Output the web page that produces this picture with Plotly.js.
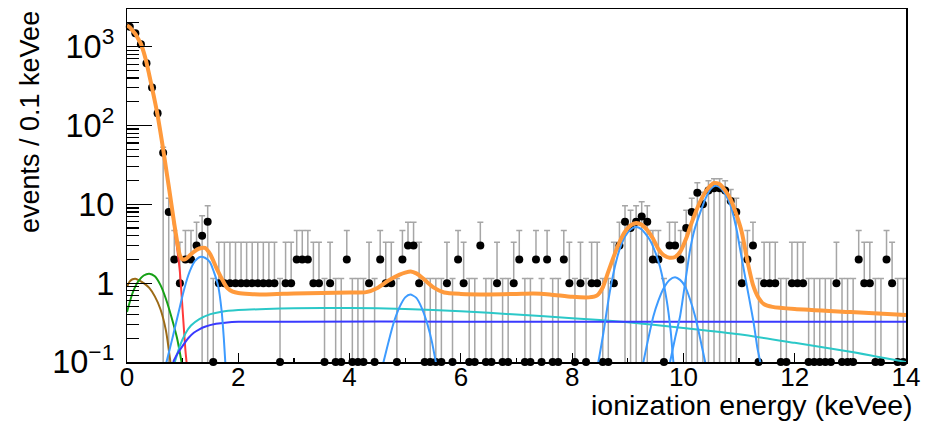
<!DOCTYPE html>
<html><head><meta charset="utf-8">
<script src="https://cdn.plot.ly/plotly-3.0.1.min.js"></script>
<style>html,body{margin:0;padding:0;background:#fff}#chart{width:930px;height:421px}</style>
</head><body><div id="chart"></div>
<script>
// ---- histogram definition ----
const binLow = 0, binWidth = 0.1;
const counts = [
1790,1475,1070,616,302,143,45,8,2,1,
2,2,3,4,6,0,1,1,1,1,
1,1,1,1,1,1,1,0,1,1,
2,2,2,1,1,0,1,0,0,2,
0,0,0,1,0,2,1,1,0,2,
3,3,1,0,0,0,0,1,0,2,
1,0,0,3,0,0,1,0,0,1,
2,0,0,2,0,2,0,0,2,1,
0,1,0,1,1,0,0,1,3,6,
5,6,7,6,2,2,0,3,3,2,
5,8,14,10,15,16,16,15,11,8,
1,2,3,0,1,1,1,0,0,1,
1,1,0,0,0,0,0,1,0,0,
0,2,1,1,0,0,2,1,0,0];

// ---- fit curves ----
const totalX = [0,0.05,0.1,0.15,0.2,0.25,0.3,0.35,0.4,0.45,0.5,0.55,0.6,0.65,0.7,0.75,0.8,0.85,0.9,0.95,1.0,1.05,1.1,1.2,1.3,1.4,1.5,1.6,1.7,1.8,1.9,2.0,2.2,2.5,3.0,3.5,4.0,4.3,4.5,4.7,4.9,5.0,5.1,5.2,5.3,5.4,5.5,5.7,6.0,6.5,7.0,7.3,7.6,8.0,8.3,8.45,8.55,8.65,8.75,8.85,8.95,9.05,9.15,9.25,9.35,9.45,9.55,9.65,9.75,9.85,9.95,10.05,10.15,10.25,10.35,10.45,10.55,10.65,10.75,10.85,10.95,11.05,11.15,11.25,11.35,11.45,11.6,12.0,13.0,14.0];
const totalY = [1860,1760,1600,1450,1260,1085,850,630,437,300,204,135,83,50,29,17,9.8,5.6,3.4,2.25,2.0,2.02,2.15,2.5,2.75,2.8,2.3,1.6,1.15,0.87,0.78,0.75,0.73,0.72,0.74,0.75,0.76,0.77,0.87,1.08,1.28,1.36,1.41,1.33,1.18,1.02,0.89,0.76,0.73,0.72,0.73,0.74,0.72,0.67,0.66,0.7,0.88,1.4,2.2,3.3,4.5,5.4,5.8,5.5,4.7,3.7,2.7,2.25,2.1,2.15,2.55,3.7,5.9,9.0,12.7,16.2,18.6,18.0,15.0,11.5,7.5,4.4,1.9,0.95,0.65,0.54,0.5,0.47,0.43,0.395];

const redX = [0,0.1,0.2,0.3,0.4,0.5,0.6,0.7,0.8,0.85,0.9,0.95,1.0,1.05,1.07,1.1];
const redY = [1850,1600,1250,840,435,202,82,28,9.3,5.0,2.8,1.4,0.45,0.14,0.1,0.055];

const brownX = [0,0.05,0.1,0.15,0.2,0.3,0.4,0.5,0.6,0.7,0.78,0.83];
const brownY = [0.9,1.05,1.12,1.14,1.1,1.0,0.87,0.68,0.47,0.25,0.1,0.05];

const greenX = [0,0.1,0.2,0.3,0.4,0.5,0.6,0.7,0.8,0.9,0.98,1.05];
const greenY = [0.43,0.75,1.05,1.25,1.32,1.22,0.95,0.63,0.37,0.2,0.1,0.05];

const cyanX = [0.86,0.95,1.05,1.15,1.3,1.5,1.7,2.0,2.5,3.0,4.0,5.0,6.0,7.0,8.0,9.0,10.0,11.0,12.0,13.0,14.0];
const cyanY = [0.1,0.16,0.23,0.29,0.35,0.405,0.435,0.455,0.47,0.48,0.485,0.47,0.44,0.40,0.36,0.32,0.27,0.225,0.175,0.135,0.1];

const flatX = [0.83,0.9,1.0,1.1,1.2,1.3,1.4,1.6,1.8,2.0,3.0,6.0,10.0,14.0];
const flatY = [0.1,0.125,0.16,0.2,0.235,0.26,0.28,0.305,0.318,0.323,0.325,0.325,0.325,0.325];

const peak1X = [0.66,0.71,0.8,0.86,0.95,1.01,1.1,1.16,1.22,1.31,1.4,1.49,1.56,1.64,1.70,1.74,1.78];
const peak1Y = [0.07,0.1,0.18,0.27,0.5,0.75,1.25,1.6,1.9,2.15,2.1,1.85,1.4,0.91,0.45,0.2,0.07];
const peak2X = [4.55,4.61,4.7,4.79,4.9,5.0,5.09,5.2,5.3,5.4,5.48,5.55,5.6];
const peak2Y = [0.07,0.1,0.18,0.31,0.5,0.66,0.72,0.65,0.48,0.3,0.18,0.1,0.07];
const peak3X = [8.42,8.47,8.56,8.68,8.8,8.9,9.0,9.1,9.16,9.25,9.4,9.5,9.58,9.7,9.77,9.82,9.86];
const peak3Y = [0.07,0.1,0.23,0.8,2.0,3.3,4.4,5.05,5.15,4.8,3.5,2.4,1.6,0.6,0.25,0.1,0.06];
const peak4X = [9.24,9.28,9.37,9.46,9.55,9.64,9.75,9.85,9.94,10.03,10.12,10.21,10.3,10.39,10.43];
const peak4Y = [0.07,0.1,0.2,0.38,0.6,0.85,1.1,1.19,1.1,0.91,0.62,0.38,0.2,0.1,0.07];
const peak5X = [9.7,9.76,9.85,9.94,10.03,10.12,10.2,10.3,10.4,10.5,10.57,10.65,10.75,10.85,10.95,11.02,11.1,11.18,11.26,11.33,11.38,11.42];
const peak5Y = [0.06,0.1,0.2,0.38,1.0,2.66,4.8,7.8,12,16,17.2,16.5,13.5,9.5,5.0,2.66,1.3,0.65,0.32,0.15,0.1,0.06];

const xTitle = 'ionization energy (keVee)';
const yTitle = 'events / 0.1 keVee';

// ---- Poisson (Garwood) 68% intervals, RooFit convention for empty bins ----
const ALPHA = 0.158655;
function poisCdf(n, mu){ let t=Math.exp(-mu), s=t; for(let k=1;k<=n;k++){t*=mu/k;s+=t;} return s; }
function bisect(f, lo, hi){ for(let i=0;i<80;i++){const m=(lo+hi)/2; if(f(m)>0) lo=m; else hi=m;} return (lo+hi)/2; }
function interval(n){
  if(n===0) return [0, -Math.log(1-0.6827)];
  if(n>60) return [n-Math.sqrt(n), n+Math.sqrt(n)+1];
  const hi = bisect(mu=>poisCdf(n,mu)-ALPHA, n, n+10*Math.sqrt(n)+10);
  const lo = bisect(mu=>(1-ALPHA)-poisCdf(n-1,mu), 0, n);
  return [lo, hi];
}
const yFloor = 0.1; // axis minimum: empty bins are drawn on it
const centers = counts.map((c,i)=>binLow+(i+0.5)*binWidth);
const shownY = counts.map(c=> c>0 ? c : yFloor);
const errUp = counts.map((c,i)=>interval(c)[1]-shownY[i]);
const errDn = counts.map((c,i)=> c>0 ? shownY[i]-interval(c)[0] : 0);

const font = 'Liberation Sans, Arial, Helvetica, sans-serif';
function curve(x,y,color,w){ return {x:x,y:y,type:'scatter',mode:'lines',line:{color:color,width:w,shape:'spline',smoothing:0.6},hoverinfo:'skip',showlegend:false}; }

const traces = [
  {x:centers,y:shownY,type:'scatter',mode:'markers',cliponaxis:false,
   marker:{color:'#000',size:8},
   error_y:{type:'data',symmetric:false,array:errUp,arrayminus:errDn,color:'#a6a6a6',thickness:1.5,width:3},
   showlegend:false},
  curve(redX,redY,'#ff3a3a',2),
  curve(brownX,brownY,'#9c6a16',2),
  curve(greenX,greenY,'#16a016',2),
  curve(cyanX,cyanY,'#2bc8c8',2),
  curve(flatX,flatY,'#3a3aff',2),
  curve(peak1X,peak1Y,'#3d9bff',2),
  curve(peak2X,peak2Y,'#3d9bff',2),
  curve(peak3X,peak3Y,'#3d9bff',2),
  curve(peak4X,peak4Y,'#3d9bff',2),
  curve(peak5X,peak5Y,'#3d9bff',2),
  curve(totalX,totalY,'#ff9a3c',4)
];

const layout = {
  width:930,height:421,
  margin:{l:127,r:24,t:9,b:58.5},
  paper_bgcolor:'#fff',plot_bgcolor:'#fff',
  showlegend:false,
  font:{family:font,color:'#000',size:26},
  xaxis:{range:[0,14],dtick:2,tick0:0,ticks:'inside',ticklen:9,tickwidth:1.2,tickcolor:'#000',
         showline:true,linecolor:'#000',linewidth:1.5,mirror:true,showgrid:false,zeroline:false,
         ticklabelstandoff:-9,
         tickfont:{family:font,size:26,color:'#000'},
         minor:{dtick:1,ticks:'inside',ticklen:4,tickcolor:'#000',tickwidth:1.2,showgrid:false}},
  yaxis:{type:'log',range:[-1,Math.log10(3000)],dtick:1,exponentformat:'power',ticks:'inside',ticklen:25,tickwidth:1.2,tickcolor:'#000',
         showline:true,linecolor:'#000',linewidth:1.5,mirror:true,showgrid:false,zeroline:false,
         ticklabelstandoff:6,
         tickfont:{family:font,size:26,color:'#000'},
         minor:{dtick:'D1',ticks:'inside',ticklen:12,tickcolor:'#000',tickwidth:1.2,showgrid:false}},
  annotations:[
    {text:xTitle,xref:'paper',yref:'paper',x:1.012,y:-0.122,xanchor:'right',yanchor:'middle',showarrow:false,font:{family:font,size:28.5,color:'#000'}},
    {text:yTitle,xref:'paper',yref:'paper',x:-0.1245,y:1.0,xanchor:'center',yanchor:'top',textangle:-90,showarrow:false,font:{family:font,size:27,color:'#000'}}
  ]
};
Plotly.newPlot('chart',traces,layout,{displayModeBar:false,staticPlot:true});
</script></body></html>
